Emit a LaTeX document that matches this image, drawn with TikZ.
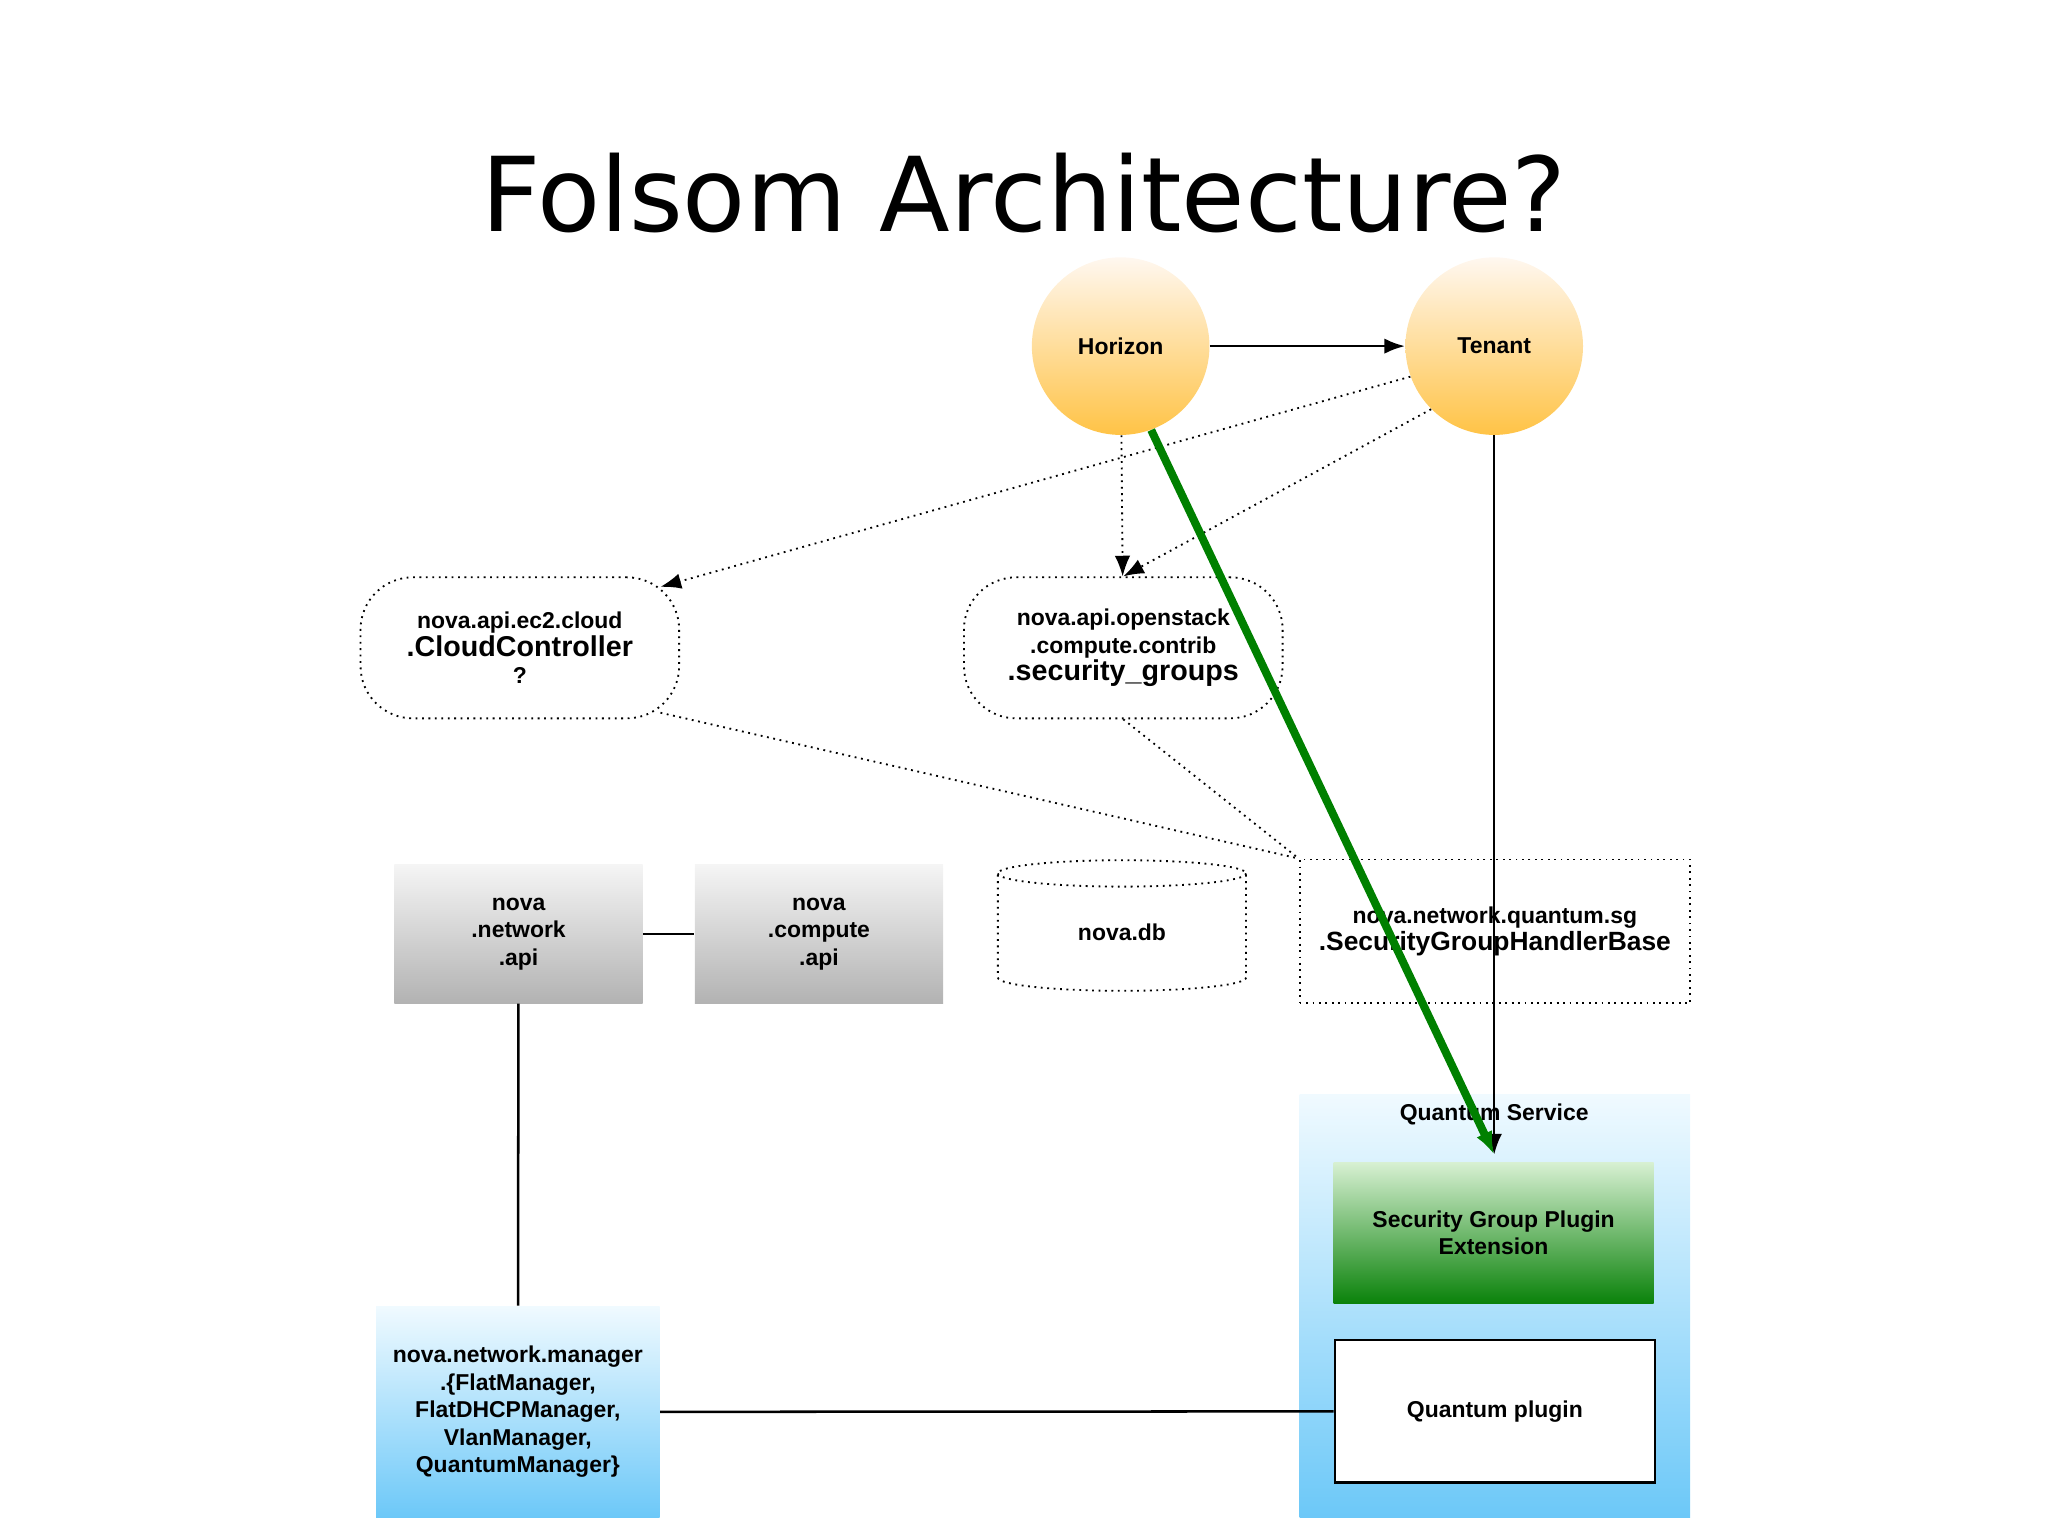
\documentclass[tikz,border=0pt]{standalone}
\usepackage{fontspec}
\setmainfont{Liberation Sans}
\newfontfamily\titlefont{DejaVu Sans}
\usetikzlibrary{shapes.geometric,arrows.meta,calc}
\begin{document}
\begin{tikzpicture}[x=0.02cm,y=-0.02cm,
  lbl/.style={font=\bfseries\fontsize{10}{12}\selectfont,align=center,inner sep=0pt},
  circ/.style={circle,minimum size=2.72cm,inner sep=0pt,top color=white!85!orange!40,bottom color={rgb,255:red,255;green,195;blue,70},lbl},
  dbox/.style={draw,dotted,thick,rounded corners=0.8cm,minimum width=4.88cm,minimum height=2.16cm,lbl},
  gbox/.style={minimum width=3.8cm,minimum height=2.12cm,top color=gray!8,bottom color=gray!60,lbl},
  dotarr/.style={dotted,thick,-{Latex[length=9pt]}},
  solid arr/.style={line width=1.1pt,-{Latex[length=9pt]}}]
\useasboundingbox (0,0) rectangle (1568,1176);
\node[font=\titlefont\fontsize{45}{52}\selectfont] (title) at (784,148) {Folsom Architecture?};
\node[circ] (hor) at (858,265) {Horizon};
\node[circ] (ten) at (1144,265) {Tenant};
\draw[solid arr] (hor) -- (ten);
\node[dbox] (ec2) at (398,496) {nova.api.ec2.cloud\\{\fontsize{12.5}{13}\selectfont .CloudController}\\?};
\node[dbox] (os) at (860,496) {nova.api.openstack\\.compute.contrib\\{\fontsize{12.5}{13}\selectfont .security\_groups}};
\node[gbox] (nna) at (397,715) {nova\\.network\\.api};
\node[gbox] (nca) at (627,715) {nova\\.compute\\.api};
\draw[line width=1.1pt] (nna) -- (nca);
\node[draw,dotted,thick,cylinder,shape border rotate=90,aspect=0.3,minimum width=3.8cm,minimum height=2.0cm,lbl] (db) at (859,714) {nova.db};
\node[draw,dotted,thick,minimum width=5.98cm,minimum height=2.2cm,lbl] (sg) at (1144.5,713) {nova.network.quantum.sg\\{\fontsize{11.5}{13}\selectfont .SecurityGroupHandlerBase}};
\node[minimum width=5.98cm,minimum height=6.48cm,top color={rgb,255:red,240;green,250;blue,255},bottom color={rgb,255:red,108;green,200;blue,248}] (qs) at (1144.5,1000) {};
\node[lbl,anchor=center] (qsl) at (1144,853) {Quantum Service};
\node[minimum width=4.9cm,minimum height=2.16cm,top color={rgb,255:red,215;green,240;blue,210},bottom color={rgb,255:red,10;green,130;blue,10},lbl] (sgp) at (1143.5,944) {Security Group Plugin\\Extension};
\node[draw,line width=1.1pt,fill=white,minimum width=4.9cm,minimum height=2.18cm,lbl] (qp) at (1144.5,1080.5) {Quantum plugin};
\node[minimum width=4.34cm,minimum height=3.24cm,top color={rgb,255:red,240;green,250;blue,255},bottom color={rgb,255:red,108;green,200;blue,248},lbl] (nm) at (396.5,1081) {nova.network.manager\\.\{FlatManager,\\FlatDHCPManager,\\VlanManager,\\QuantumManager\}};
\coordinate (tb) at (1144,884);
\coordinate (ec2in) at ($(ec2.north east)+(-15,8)$);
\draw[dotarr] (ten.200) -- (ec2in);
\draw[dotarr] (hor) -- (os);
\draw[dotarr] (ten.225) -- (os.north);
\draw[dotted,thick] ($(ec2.south east)+(-15,-5)$) -- (sg.north west);
\draw[dotted,thick] (os.south) -- (sg.north west);
\draw[line width=1.1pt] (nna) -- (nm);
\draw[line width=1.1pt] (nm) -- (qp);
\draw[solid arr] (ten) -- (tb);
\draw[line width=3.5pt,green!50!black,-{Latex[length=10pt]}] (hor.-70) -- (tb);
\end{tikzpicture}
\end{document}
